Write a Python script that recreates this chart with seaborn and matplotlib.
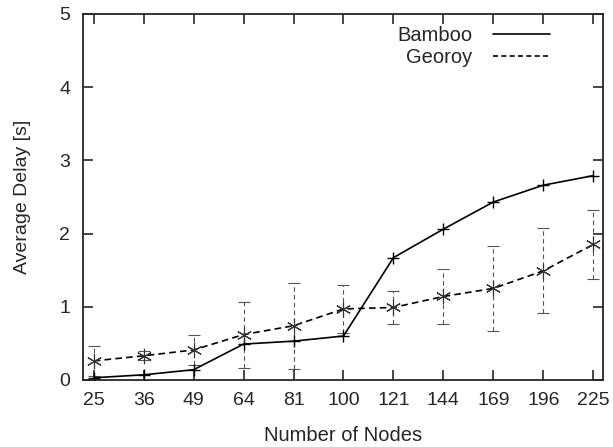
import numpy as np
import pandas as pd
import seaborn as sns
import matplotlib
matplotlib.use('Agg')
import matplotlib.pyplot as plt
from matplotlib.lines import Line2D

# datos
nodes = ["25", "36", "49", "64", "81", "100", "121", "144", "169", "196", "225"]
bamboo = [0.03, 0.07, 0.14, 0.49, 0.53, 0.60, 1.67, 2.06, 2.43, 2.66, 2.79]
georoy = [0.26, 0.33, 0.41, 0.62, 0.74, 0.97, 0.99, 1.14, 1.25, 1.49, 1.85]
georoy_low = [0.06, 0.27, 0.20, 0.17, 0.15, 0.64, 0.76, 0.76, 0.67, 0.91, 1.38]
georoy_high = [0.46, 0.39, 0.62, 1.07, 1.33, 1.30, 1.22, 1.51, 1.83, 2.08, 2.32]

sns.set_style("ticks")
plt.rcParams['font.family'] = ['Liberation Sans', 'DejaVu Sans']

df = pd.DataFrame({"pos": np.arange(len(nodes)), "Bamboo": bamboo, "Georoy": georoy})

fig, ax = plt.subplots(figsize=(6.13, 4.47), dpi=100)

# barras de error de Georoy
yerr = [np.array(georoy) - np.array(georoy_low), np.array(georoy_high) - np.array(georoy)]
eb = ax.errorbar(df["pos"], df["Georoy"], yerr=yerr, fmt='none', ecolor='#555555',
                 elinewidth=0.8, capsize=4, capthick=0.8, zorder=1)
eb[2][0].set_linestyle((0, (4, 3)))

sns.lineplot(data=df, x="pos", y="Bamboo", ax=ax, color='black', linewidth=1.2,
             marker='+', markersize=9, markeredgewidth=1.0,
             markeredgecolor='black', zorder=3)
sns.lineplot(data=df, x="pos", y="Georoy", ax=ax, color='black', linewidth=1.2,
             linestyle=(0, (4, 2.5)), marker=(6, 2, 0), markersize=11,
             markeredgewidth=0.8, markeredgecolor='#333333', zorder=3)

ax.set_xlim(-0.22, 10.2)
ax.set_ylim(0, 5)
ax.set_xticks(df["pos"])
ax.set_xticklabels(nodes)
ax.set_yticks([0, 1, 2, 3, 4, 5])
ax.tick_params(direction='in', top=True, right=True, length=7, width=1.2,
               labelsize=14, pad=9)
for s in ax.spines.values():
    s.set_linewidth(1.3)

ax.set_xlabel("Number of Nodes", fontsize=14.5, labelpad=12)
ax.set_ylabel("Average Delay [s]", fontsize=14, labelpad=20)

handles = [Line2D([0], [0], color='black', linewidth=1.2),
           Line2D([0], [0], color='black', linewidth=1.2, linestyle=(0, (3, 2)))]
ax.legend(handles, ["Bamboo", "Georoy"], loc='upper right',
          bbox_to_anchor=(0.898, 0.967), frameon=False, markerfirst=False,
          fontsize=14.5, handlelength=2.85, labelspacing=0.15,
          borderaxespad=0, borderpad=0, handletextpad=1.0)

plt.subplots_adjust(left=0.135, right=0.984, top=0.969, bottom=0.15)
plt.savefig('out.png', dpi=100)
